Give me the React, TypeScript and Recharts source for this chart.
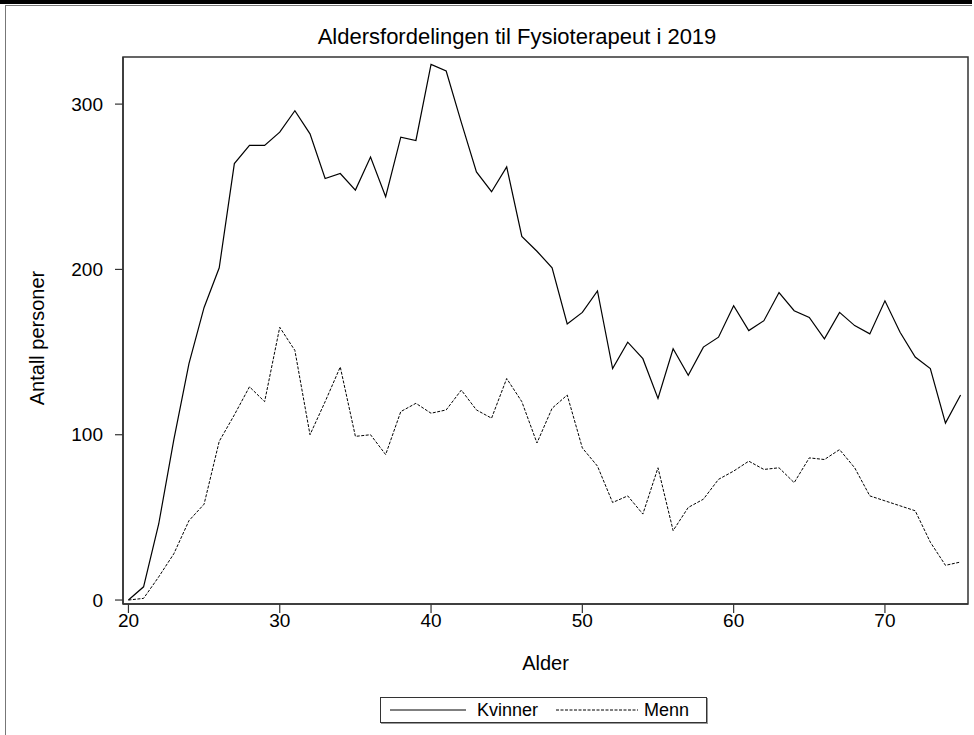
import React from 'react';
import { LineChart, Line, XAxis, YAxis, ReferenceArea } from 'recharts';

const ages = [20, 21, 22, 23, 24, 25, 26, 27, 28, 29, 30, 31, 32, 33, 34, 35, 36, 37, 38, 39, 40, 41, 42, 43, 44, 45, 46, 47, 48, 49, 50, 51, 52, 53, 54, 55, 56, 57, 58, 59, 60, 61, 62, 63, 64, 65, 66, 67, 68, 69, 70, 71, 72, 73, 74, 75];
const kvinner = [0, 8, 46, 97, 143, 177, 201, 264, 275, 275, 283, 296, 282, 255, 258, 248, 268, 244, 280, 278, 324, 320, 289, 259, 247, 262, 220, 211, 201, 167, 174, 187, 140, 156, 146, 122, 152, 136, 153, 159, 178, 163, 169, 186, 175, 171, 158, 174, 166, 161, 181, 162, 147, 140, 107, 124];
const menn = [0, 1, 14, 28, 48, 58, 96, 112, 129, 120, 165, 151, 100, 120, 141, 99, 100, 88, 114, 119, 113, 115, 127, 115, 110, 134, 120, 95, 116, 124, 92, 81, 59, 63, 52, 80, 42, 56, 61, 73, 78, 84, 79, 80, 71, 86, 85, 91, 80, 63, 60, 57, 54, 35, 21, 23];
const xTicks = [20, 30, 40, 50, 60, 70];
const yTicks = [0, 100, 200, 300];

const title = 'Aldersfordelingen til Fysioterapeut i 2019';
const xLabel = 'Alder';
const yLabel = 'Antall personer';
const seriesNames = ['Kvinner', 'Menn'];
const seriesDash = ['', '3 1.5'];

const rows = ages.map((a, i) => ({ age: a, Kvinner: kvinner[i], Menn: menn[i] }));

const FONT = 'Arial, "Liberation Sans", sans-serif';
const X_DOMAIN: [number, number] = [19.64, 75.49];
const Y_DOMAIN: [number, number] = [-2.4, 328.5];

const legendLayout = [
  { lineW: 76, lineGap: 11, lead: 0 },
  { lineW: 82, lineGap: 6, lead: 18 },
];

export default function App() {
  return (
    <div style={{ position: 'absolute', left: 0, top: 0, width: 974, height: 735, background: '#fff', fontFamily: FONT, overflow: 'hidden' }}>
      <div style={{ position: 'absolute', left: 0, top: 0, width: 972, height: 4, background: '#000' }} />
      <div style={{ position: 'absolute', left: 5, top: 5, width: 967, height: 1, background: '#777' }} />
      <div style={{ position: 'absolute', left: 5, top: 5, width: 1, height: 730, background: '#777' }} />
      <div style={{ position: 'absolute', left: 0, top: 24, width: 1034, textAlign: 'center', fontSize: 22, lineHeight: '26px', color: '#000', whiteSpace: 'nowrap' }}>{title}</div>
      <div style={{ position: 'absolute', left: 123, top: 651, width: 845, textAlign: 'center', fontSize: 20, lineHeight: '24px', color: '#000' }}>{xLabel}</div>
      <div style={{ position: 'absolute', left: 37, top: 338, width: 0, height: 0 }}>
        <div style={{ position: 'absolute', left: -100, top: -12, width: 200, textAlign: 'center', fontSize: 20, lineHeight: '24px', transform: 'rotate(-90deg)', color: '#000', whiteSpace: 'nowrap' }}>{yLabel}</div>
      </div>
      <div style={{ position: 'absolute', left: 0, top: 0 }}>
        <LineChart width={974} height={735} data={rows} margin={{ top: 57, right: 6, bottom: 101, left: 63 }}>
          <XAxis type="number" dataKey="age" domain={X_DOMAIN} allowDataOverflow ticks={xTicks} height={30}
            tickSize={9} tickMargin={1} axisLine={{ stroke: '#333', strokeWidth: 1.5 }} tickLine={{ stroke: '#333', strokeWidth: 1.2 }}
            tick={{ fill: '#000', fontSize: 19, fontFamily: FONT }} />
          <YAxis type="number" domain={Y_DOMAIN} allowDataOverflow ticks={yTicks} width={60}
            tickSize={8} tickMargin={12} axisLine={{ stroke: '#333', strokeWidth: 1.5 }} tickLine={{ stroke: '#333', strokeWidth: 1.2 }}
            tick={{ fill: '#000', fontSize: 19, fontFamily: FONT }} />
          <ReferenceArea x1={X_DOMAIN[0]} x2={X_DOMAIN[1]} y1={Y_DOMAIN[0]} y2={Y_DOMAIN[1]} fill="none" fillOpacity={0} stroke="#333" strokeWidth={1.5} ifOverflow="visible" />
          <Line type="linear" dataKey="Kvinner" stroke="#000" strokeWidth={1.2} dot={false} isAnimationActive={false} />
          <Line type="linear" dataKey="Menn" stroke="#000" strokeWidth={1} strokeDasharray="3 1.5" dot={false} isAnimationActive={false} />
        </LineChart>
      </div>
      <div style={{
        position: 'absolute', left: 380, top: 697, width: 327, display: 'flex', alignItems: 'center', border: '1px solid #333', boxShadow: '1px 1px 0 #999',
        background: '#fff', height: 26, paddingLeft: 9, fontSize: 18, color: '#000', boxSizing: 'border-box', whiteSpace: 'nowrap'
      }}>
        {seriesNames.map((name, i) => (
          <div key={name} style={{ display: 'flex', alignItems: 'center', marginLeft: legendLayout[i].lead }}>
            <svg width={legendLayout[i].lineW} height={10} style={{ marginRight: legendLayout[i].lineGap }}>
              <line x1={0} y1={5} x2={legendLayout[i].lineW} y2={5} stroke="#000" strokeWidth={1} strokeDasharray={seriesDash[i] || undefined} />
            </svg>
            <span>{name}</span>
          </div>
        ))}
      </div>
    </div>
  );
}
